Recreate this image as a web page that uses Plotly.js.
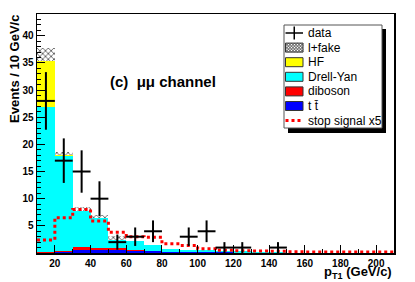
<!DOCTYPE html>
<html>
<head>
<meta charset="utf-8">
<script src="https://cdn.plot.ly/plotly-3.0.1.min.js"></script>
<style>html,body{margin:0;padding:0;background:#fff;}#chart{width:415px;height:282px;}</style>
</head>
<body>
<div id="chart"></div>
<script>
// ---- data (bins of 10 GeV/c from 10 to 210) ----
const binCenters = [15,25,35,45,55,65,75,85,95,105,115,125,135,145,155,165,175,185,195,205];
const ttbar   = [0.05,0.25,0.55,0.6,0.6,0.35,0.3,0.2,0.15,0.1,0.1,0.05,0.05,0.03,0.02,0.01,0.01,0,0,0];
const diboson = [0.1,0.15,0.5,0.35,0.3,0.15,0.1,0.05,0.05,0.03,0.02,0.02,0.01,0.01,0,0,0,0,0,0];
const drellYan= [26.7,17.5,6.65,5.45,1.5,1.7,1.1,0.4,0.4,0.45,0.3,0.3,0.1,0.1,0.05,0.03,0.02,0.02,0.01,0.01];
const heavyFlavor = [8.5,0.1,0.05,0.05,0,0,0,0,0,0,0,0,0,0,0,0,0,0,0,0];
const leptonFake  = [2.4,0.6,0.8,0.6,0.7,0.1,0.05,0.05,0,0,0,0,0,0,0,0,0,0,0,0];
const stopSignalX5 = [2.4,6.5,8.0,5.9,3.8,3.0,2.9,1.7,1.4,0.8,0.5,0.4,0.35,0.3,0.25,0.2,0.2,0.2,0.2,0.2];
const dataX = [15,25,35,45,55,65,75,95,105,115,125,145];
const dataY = [28,17,15,10,2,3,4,3,4,1,1,1];
const dataErr = [5.3,4.1,3.9,3.2,1.4,1.7,2.0,1.7,2.0,1.0,1.0,1.0];
const xTickVals = [20,40,60,80,100,120,140,160,180,200];
const yTickVals = [5,10,15,20,25,30,35,40];
const legendLabels = ['data','l+fake','HF','Drell-Yan','diboson','t t\u0304','stop signal x5'];
const legendColors = [null,'pattern','#ffff00','#00ffff','#ff0000','#0000ff','#ff0000'];

const FONT = 'Liberation Sans, Arial, Helvetica, sans-serif';
const binWidth = 10;

// bin edges for the step line (derived from the centers)
const edges = binCenters.map(c => c - binWidth/2).concat([binCenters[binCenters.length-1] + binWidth/2]);
const stepY = stopSignalX5.concat([stopSignalX5[stopSignalX5.length-1]]);

function bar(y, color, name, extra) {
  return Object.assign({
    type: 'bar', x: binCenters, y: y, width: binWidth, name: name,
    marker: {color: color, line: {width: 0}}, showlegend: false, hoverinfo: 'skip'
  }, extra || {});
}

const traces = [
  bar(ttbar, '#0000ff', 't t\u0304'),
  bar(diboson, '#ff0000', 'diboson'),
  bar(drellYan, '#00ffff', 'Drell-Yan'),
  bar(heavyFlavor, '#ffff00', 'HF'),
  bar(leptonFake, '#ffffff', 'l+fake', {marker: {color: '#ffffff', line: {width: 0},
      pattern: {shape: 'x', fgcolor: '#444', bgcolor: '#ffffff', size: 4, solidity: 0.35}}}),
  {type: 'scatter', mode: 'lines', x: edges, y: stepY, name: 'stop signal x5',
   line: {shape: 'hv', color: '#ff0000', dash: 'dot', width: 3}, showlegend: false, hoverinfo: 'skip'},
  {type: 'scatter', mode: 'markers', x: dataX, y: dataY, name: 'data',
   marker: {color: '#000', size: 2},
   error_y: {type: 'data', array: dataErr, visible: true, color: '#000', thickness: 2, width: 0},
   error_x: {type: 'constant', value: binWidth/2, visible: true, color: '#000', thickness: 2, width: 0},
   showlegend: false, hoverinfo: 'skip'}
];

// plot area in pixels
const L = 37, R = 394, T = 14, B = 253;
const px = x => (x - L) / (R - L);
const py = y => (B - y) / (B - T);
const P = (x, y) => px(x).toFixed(5) + ',' + py(y).toFixed(5);

function hatchPath(x0, y0, x1, y1, step) {
  let d = '';
  const w = x1 - x0, h = y1 - y0;
  for (let s = -h; s < w; s += step) {
    const tA = Math.max(0, -s), tB = Math.min(h, w - s);
    if (tB > tA) {
      d += 'M' + P(x0 + s + tA, y0 + tA) + 'L' + P(x0 + s + tB, y0 + tB);
      d += 'M' + P(x0 + s + tA, y1 - tA) + 'L' + P(x0 + s + tB, y1 - tB);
    }
  }
  return d;
}

const shapes = [];
const annotations = [];
// legend box with shadow
const lx0 = 284, lx1 = 382, ly0 = 25, ly1 = 128;
shapes.push({type: 'rect', xref: 'paper', yref: 'paper', x0: px(lx0 + 4), x1: px(lx1 + 4), y0: py(ly1 + 5), y1: py(ly0 + 4),
  fillcolor: '#000', line: {width: 0}});
shapes.push({type: 'rect', xref: 'paper', yref: 'paper', x0: px(lx0), x1: px(lx1), y0: py(ly1), y1: py(ly0),
  fillcolor: '#fff', line: {color: '#555', width: 1}});

const sx0 = 285.5, sx1 = 303;
legendLabels.forEach((lab, i) => {
  const yc = 33 + i * 14.6;
  const c = legendColors[i];
  if (i === 0) {
    shapes.push({type: 'line', xref: 'paper', yref: 'paper', x0: px(sx0), x1: px(sx1), y0: py(yc), y1: py(yc), line: {color: '#000', width: 1.5}});
    shapes.push({type: 'line', xref: 'paper', yref: 'paper', x0: px((sx0 + sx1) / 2), x1: px((sx0 + sx1) / 2), y0: py(yc - 6.5), y1: py(yc + 6.5), line: {color: '#000', width: 1.5}});
  } else if (i === legendLabels.length - 1) {
    shapes.push({type: 'line', xref: 'paper', yref: 'paper', x0: px(sx0), x1: px(sx1 - 2), y0: py(yc), y1: py(yc), line: {color: c, width: 3, dash: 'dot'}});
  } else if (c === 'pattern') {
    shapes.push({type: 'rect', xref: 'paper', yref: 'paper', x0: px(sx0), x1: px(sx1), y0: py(yc + 4.5), y1: py(yc - 4.5), fillcolor: '#fff', line: {width: 0}});
    shapes.push({type: 'path', xref: 'paper', yref: 'paper', path: hatchPath(sx0, yc - 4.5, sx1, yc + 4.5, 3), line: {color: '#555', width: 1}});
    shapes.push({type: 'rect', xref: 'paper', yref: 'paper', x0: px(sx0), x1: px(sx1), y0: py(yc + 4.5), y1: py(yc - 4.5), line: {color: '#333', width: 1}});
  } else {
    shapes.push({type: 'rect', xref: 'paper', yref: 'paper', x0: px(sx0), x1: px(sx1), y0: py(yc + 4.5), y1: py(yc - 4.5), fillcolor: c, line: {color: '#333', width: 1}});
  }
  annotations.push({xref: 'paper', yref: 'paper', x: px(306), y: py(yc), xanchor: 'left', yanchor: 'middle',
    text: lab, showarrow: false, font: {family: FONT, size: 12, color: '#000'}});
});

// channel label
annotations.push({xref: 'paper', yref: 'paper', x: px(108), y: py(81), xanchor: 'left', yanchor: 'middle',
  text: '(c)\u00a0\u00a0\u03bc\u03bc channel', showarrow: false, font: {family: FONT, size: 15, color: '#000', weight: 700}});
// axis titles
annotations.push({xref: 'paper', yref: 'paper', x: px(14), y: py(13), xanchor: 'center', yanchor: 'top', textangle: -90,
  text: 'Events / 10 GeV/c', showarrow: false, font: {family: FONT, size: 13, color: '#000', weight: 700}});
annotations.push({xref: 'paper', yref: 'paper', x: px(393), y: py(282), xanchor: 'right', yanchor: 'bottom',
  borderpad: 0,
  text: 'p<sub>T1</sub> (GeV/c)', showarrow: false, font: {family: FONT, size: 13, color: '#000', weight: 700}});

const layout = {
  width: 415, height: 282,
  margin: {l: L, r: 415 - R, t: T, b: 282 - B, pad: 0},
  paper_bgcolor: '#fff', plot_bgcolor: '#fff',
  barmode: 'stack', bargap: 0,
  showlegend: false,
  xaxis: {range: [10, 210], tickmode: 'array', tickvals: xTickVals, ticks: 'inside', ticklen: 8, tickwidth: 1, tickcolor: '#000',
    minor: {tick0: 0, dtick: 10, ticks: 'inside', ticklen: 4, tickcolor: '#000', showgrid: false},
    showline: true, linecolor: '#000', linewidth: 1.5, mirror: true, showgrid: false, zeroline: false,
    tickfont: {family: FONT, size: 10, color: '#000', weight: 700}},
  yaxis: {range: [0, 44], tickmode: 'array', tickvals: yTickVals, ticks: 'inside', ticklen: 8, tickwidth: 1, tickcolor: '#000',
    minor: {tick0: 0, dtick: 1, ticks: 'inside', ticklen: 4, tickcolor: '#000', showgrid: false},
    showline: true, linecolor: '#000', linewidth: 1.5, mirror: true, showgrid: false, zeroline: false,
    tickfont: {family: FONT, size: 10, color: '#000', weight: 700}},
  shapes: shapes,
  annotations: annotations
};

Plotly.newPlot('chart', traces, layout, {staticPlot: true, displayModeBar: false});
</script>
</body>
</html>
